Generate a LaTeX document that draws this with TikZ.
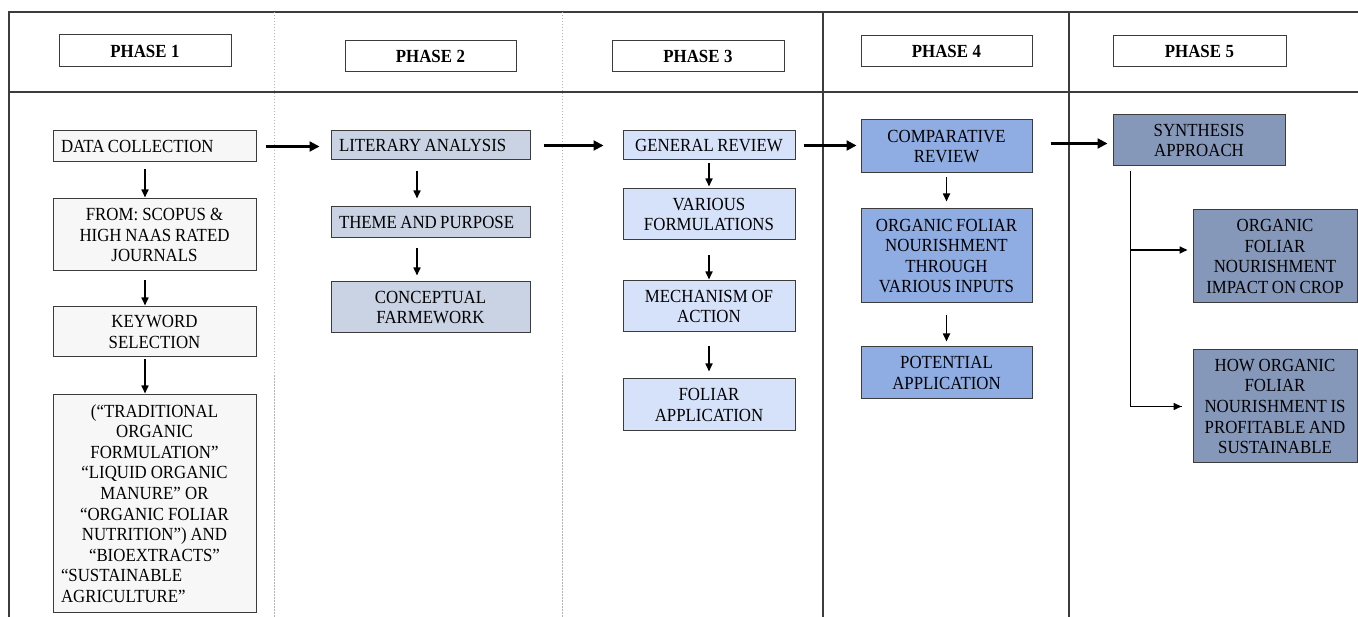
\documentclass[tikz,border=0pt]{standalone}
\usepackage{fontspec}
\setmainfont{Liberation Serif}[FakeStretch=0.91]
\usetikzlibrary{arrows.meta}
\definecolor{pone}{RGB}{247,247,247}
\definecolor{ptwo}{RGB}{201,211,228}
\definecolor{pthree}{RGB}{214,226,249}
\definecolor{pfour}{RGB}{143,173,227}
\definecolor{pfive}{RGB}{134,152,186}
\definecolor{edgegray}{RGB}{60,60,60}
\newcommand\mybox[7]{%
  \pgfmathsetmacro\myBW{#3-#2}%
  \pgfmathsetmacro\myBH{#5-#4}%
  \pgfmathsetmacro\myTW{#3-#2-16}%
  \node[#6, minimum width=\myBW pt, minimum height=\myBH pt, text width=\myTW pt] (#1) at ({(#2+#3)/2},{(#4+#5)/2}) {#7};}
\newcommand\mytightsp{\spaceskip=3.4pt plus 1pt minus 0.5pt\relax}
\tikzset{
  box/.style={draw=edgegray, line width=1pt, inner xsep=8pt, inner ysep=0pt,
    font=\fontsize{18.5}{20.6}\selectfont, align=center,
    execute at begin node=\mytightsp},
  lbox/.style={box, align=left},
  hdr/.style={box, font=\bfseries\fontsize{18.5}{20}\selectfont},
  frame/.style={draw=edgegray, line width=1.2pt},
  dotline/.style={draw=black!30, line width=0.7pt, dash pattern=on 1.5pt off 1.5pt},
  bigarrow/.style={draw=black, line width=2.2pt, -{Triangle[length=10pt,width=10pt]}},
  smallarrow/.style={draw=black, line width=1.6pt, -{Triangle[length=8pt,width=7pt]}},
  link/.style={draw=black, line width=1.6pt}
}
\begin{document}
\begin{tikzpicture}[x=1pt,y=-1pt]
\useasboundingbox (0,0) rectangle (1358,617);
% frame
\coordinate (tl) at (9,12);
\coordinate (tr) at (1358,12);
\coordinate (hl) at (9,92);
\coordinate (hr) at (1358,92);
\coordinate (bl) at (9,617);
\draw[frame] (tr) -- (tl) -- (bl);
\draw[frame] (hl) -- (hr);
\coordinate (d1t) at (274,12); \coordinate (d1b) at (274,617);
\coordinate (d2t) at (562,12); \coordinate (d2b) at (562,617);
\coordinate (d3t) at (823,12); \coordinate (d3b) at (823,617);
\coordinate (d4t) at (1069,12); \coordinate (d4b) at (1069,617);
\draw[dotline] (d1t) -- (d1b);
\draw[dotline] (d2t) -- (d2b);
\draw[frame] (d3t) -- (d3b);
\draw[frame] (d4t) -- (d4b);
% headers
\mybox{h1}{59}{231}{35}{67}{hdr}{PHASE 1}
\mybox{h2}{345}{516}{41}{72}{hdr}{PHASE 2}
\mybox{h3}{612}{784}{41}{72}{hdr}{PHASE 3}
\mybox{h4}{861}{1032}{36}{67}{hdr}{PHASE 4}
\mybox{h5}{1113}{1286}{36}{67}{hdr}{PHASE 5}
% phase 1
\mybox{a1}{53}{256}{131}{162}{lbox,fill=pone}{DATA COLLECTION}
\mybox{a2}{53}{256}{199}{271}{box,fill=pone}{FROM: SCOPUS \&\\HIGH NAAS RATED\\JOURNALS}
\mybox{a3}{53}{256}{307}{357}{box,fill=pone}{KEYWORD\\SELECTION}
\mybox{a4}{53}{256}{395}{612}{box,fill=pone}{(“TRADITIONAL\\ORGANIC\\FORMULATION”\\“LIQUID ORGANIC\\MANURE” OR\\“ORGANIC FOLIAR\\NUTRITION”) AND\\“BIOEXTRACTS”\\\makebox[\hsize][l]{“SUSTAINABLE}\\\makebox[\hsize][l]{AGRICULTURE”}}
% phase 2
\mybox{b1}{331}{530}{131}{160}{lbox,fill=ptwo}{LITERARY ANALYSIS}
\mybox{b2}{331}{530}{207}{238}{lbox,fill=ptwo}{THEME AND PURPOSE}
\mybox{b3}{331}{530}{282}{333}{box,fill=ptwo}{CONCEPTUAL\\FARMEWORK}
% phase 3
\mybox{c1}{623}{795}{131}{160}{box,fill=pthree}{GENERAL REVIEW}
\mybox{c2}{623}{795}{189}{240}{box,fill=pthree}{VARIOUS\\FORMULATIONS}
\mybox{c3}{623}{795}{281}{332}{box,fill=pthree}{MECHANISM OF\\ACTION}
\mybox{c4}{623}{795}{379}{431}{box,fill=pthree}{FOLIAR\\APPLICATION}
% phase 4
\mybox{d1}{861}{1032}{120}{173}{box,fill=pfour}{COMPARATIVE\\REVIEW}
\mybox{d2}{861}{1032}{209}{303}{box,fill=pfour}{ORGANIC FOLIAR\\NOURISHMENT\\THROUGH\\VARIOUS INPUTS}
\mybox{d3}{861}{1032}{347}{399}{box,fill=pfour}{POTENTIAL\\APPLICATION}
% phase 5
\mybox{e1}{1113}{1285}{115}{166}{box,fill=pfive}{SYNTHESIS\\APPROACH}
\mybox{e2}{1193}{1357}{210}{303}{box,fill=pfive}{ORGANIC\\FOLIAR\\NOURISHMENT\\IMPACT ON CROP}
\mybox{e3}{1193}{1357}{350}{463}{box,fill=pfive}{HOW ORGANIC\\FOLIAR\\NOURISHMENT IS\\PROFITABLE AND\\SUSTAINABLE}
% horizontal arrows
\draw[bigarrow, shorten <=9pt, shorten >=11pt] (a1.east) -- (a1.east -| b1.west);
\draw[bigarrow, shorten <=13pt, shorten >=19pt] (b1.east) -- (b1.east -| c1.west);
\draw[bigarrow, shorten <=8pt, shorten >=4pt] (c1.east) -- (c1.east -| d1.west);
\draw[bigarrow, shorten <=18pt, shorten >=5pt] ([yshift=3pt]d1.east) -- ([yshift=3pt]d1.east -| e1.west);
% vertical arrows phase 1
\draw[smallarrow, shorten <=7pt, shorten >=1pt] ([xshift=-9.5pt]a1.south) -- ([xshift=-9.5pt]a2.north);
\draw[smallarrow, shorten <=9pt, shorten >=1pt] ([xshift=-9.5pt]a2.south) -- ([xshift=-9.5pt]a3.north);
\draw[smallarrow, shorten <=2pt, shorten >=1pt] ([xshift=-9.5pt]a3.south) -- ([xshift=-9.5pt]a4.north);
% phase 2
\draw[smallarrow, shorten <=11pt, shorten >=8pt] ([xshift=-13.5pt]b1.south) -- ([xshift=-13.5pt]b2.north);
\draw[smallarrow, shorten <=10pt, shorten >=6pt] ([xshift=-13.5pt]b2.south) -- ([xshift=-13.5pt]b3.north);
% phase 3
\draw[smallarrow, shorten <=3pt, shorten >=2pt] (c1.south) -- (c2.north);
\draw[smallarrow, shorten <=15pt, shorten >=1pt] (c2.south) -- (c3.north);
\draw[smallarrow, shorten <=14pt, shorten >=7pt] (c3.south) -- (c4.north);
% phase 4
\draw[smallarrow, shorten <=4pt, shorten >=7pt] (d1.south) -- (d2.north);
\draw[smallarrow, shorten <=12pt, shorten >=5pt] (d2.south) -- (d3.north);
% phase 5
\coordinate (v0) at ([xshift=18pt,yshift=-5pt]e1.south west);
\coordinate (j1) at (1131,250);
\draw[link] (v0) |- ([xshift=-11pt]e3.west);
\draw[smallarrow, shorten >=11pt] (v0 |- e3.west) -- (e3.west);
\draw[smallarrow, shorten >=5pt] (j1) -- (j1 -| e2.west);
\end{tikzpicture}
\end{document}
